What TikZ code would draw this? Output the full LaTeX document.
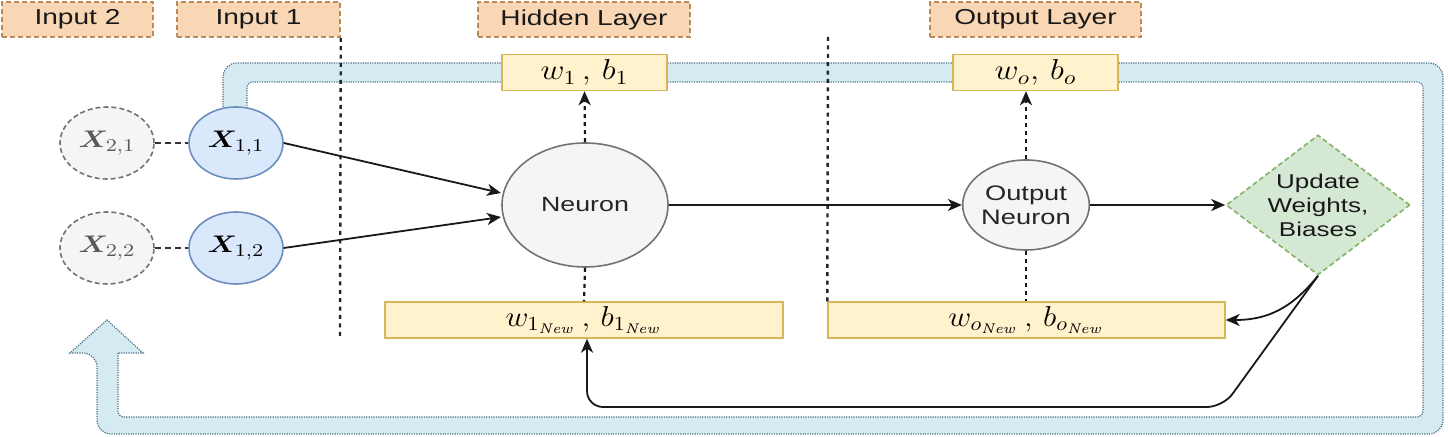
\documentclass[tikz,border=0pt]{standalone}
\usepackage[no-math]{fontspec}
\usepackage{bm}
\usetikzlibrary{shapes.geometric,arrows.meta}
\newfontfamily\lsans[FakeStretch=1.3]{Liberation Sans}
\newcommand{\hstr}[2]{\scalebox{#1}[1]{#2}}
\definecolor{peach}{RGB}{250,215,180}
\definecolor{peachd}{RGB}{185,140,95}
\definecolor{yel}{RGB}{255,242,204}
\definecolor{yeld}{RGB}{214,182,86}
\definecolor{bluef}{RGB}{218,232,252}
\definecolor{blued}{RGB}{108,142,191}
\definecolor{greyf}{RGB}{245,245,245}
\definecolor{greyd}{RGB}{115,115,115}
\definecolor{greenf}{RGB}{213,232,212}
\definecolor{greend}{RGB}{130,179,102}
\definecolor{bandf}{RGB}{212,235,242}
\definecolor{bandd}{RGB}{80,110,135}
\tikzset{
  hdr/.style={draw=peachd, fill=peach, dash pattern=on 2.5pt off 1.5pt, line width=0.8pt,
    minimum height=17.5pt, inner sep=0pt, text=black!90, font=\lsans\fontsize{10.8}{12}\selectfont},
  wbox/.style={draw=yeld, fill=yel, line width=0.7pt, minimum height=18pt, inner sep=0pt,
    font=\fontsize{14.5}{16}\selectfont},
  xin/.style={ellipse, draw=blued, fill=bluef, line width=0.8pt, minimum width=47pt,
    minimum height=36pt, inner sep=0pt, font=\fontsize{12.5}{14}\selectfont},
  xprev/.style={ellipse, draw=greyd, fill=greyf, dash pattern=on 2.5pt off 1.5pt, line width=0.8pt,
    minimum width=47pt, minimum height=36pt, inner sep=0pt, text=black!65, font=\fontsize{12.5}{14}\selectfont},
  neu/.style={ellipse, draw=greyd, fill=greyf, line width=0.8pt, inner sep=0pt, align=center,
    text=black!85},
  updbox/.style={diamond, draw=greend, fill=greenf, dash pattern=on 2.5pt off 1.5pt, line width=0.8pt,
    aspect=1.31, minimum width=92pt, minimum height=70pt, inner sep=0pt, align=center,
    text=black!90, font=\lsans\fontsize{10}{12}\selectfont},
  sep/.style={draw=black!85, line width=1.2pt, dash pattern=on 2pt off 2.2pt},
  flow/.style={draw=black!90, line width=0.9pt, -{Stealth[length=7pt,width=6pt,inset=2pt]}},
  upd/.style={draw=black!90, line width=1.1pt, dash pattern=on 2pt off 2pt},
  updarrow/.style={upd, -{Stealth[length=7pt,width=6pt,inset=2pt]}},
  dashlink/.style={draw=black!80, line width=0.9pt, dash pattern=on 3pt off 2pt},
}
\begin{document}
\begin{tikzpicture}[x=0.5pt,y=-0.5pt]
\useasboundingbox (0,0) rectangle (1448,437);
% feedback band
\filldraw[fill=bandf, draw=bandd, line width=0.6pt, dash pattern=on 0.6pt off 0.6pt, rounded corners=7pt]
  (118,353) [rounded corners=3pt] -- (118,417) -- (1423,417) -- (1423,82) -- (247,82)
  -- (247,112) -- (223,112) [rounded corners=7pt] -- (223,63) -- (1443,63) -- (1443,434) -- (97,434)
  -- (97,353) [sharp corners] -- (70,353) -- (107,320) -- (143,353) -- cycle;

% headers
\node[hdr, minimum width=75.5pt] (in2) at (77.5,19.5) {Input 2};
\node[hdr, minimum width=81.5pt] (in1) at (258.5,19.5) {Input 1};
\node[hdr, minimum width=106pt] (hid) at (584,19.5) {Hidden Layer};
\node[hdr, minimum width=105.5pt] (outl) at (1035.5,19.5) {Output Layer};

% separators
\coordinate (s1b) at (340,340);
\coordinate (s2t) at (828,37);

% parameter boxes
\node[wbox, minimum width=82.5pt] (wb1) at (584.5,72.5) {\hstr{1.15}{$w_1\,,\,b_1$}};
\node[wbox, minimum width=82.5pt] (wbo) at (1035.5,72.5) {\hstr{1.15}{$w_o,\,b_o$}};
\node[wbox, minimum width=199pt] (wb1n) at (584,320) {\hstr{1.1}{$w_{1_{\mathit{New}}}\,,\,b_{1_{\mathit{New}}}$}};
\node[wbox, minimum width=198.5pt] (wbon) at (1026.5,320) {\hstr{1.1}{$w_{o_{\mathit{New}}}\,,\,b_{o_{\mathit{New}}}$}};

\draw[sep] (in1.south east) -- (s1b);
\draw[sep] (s2t) -- (wbon.north west);

% inputs
\node[xprev] (x21) at (107,143) {\hstr{1.2}{$\bm{X}_{2,1}$}};
\node[xin] (x11) at (236,143) {\hstr{1.2}{$\bm{X}_{1,1}$}};
\node[xprev] (x22) at (107,248) {\hstr{1.2}{$\bm{X}_{2,2}$}};
\node[xin] (x12) at (236,248) {\hstr{1.2}{$\bm{X}_{1,2}$}};

% neurons
\node[neu, minimum width=83pt, minimum height=62pt, font=\lsans\fontsize{10.3}{12}\selectfont] (neu) at (585,205) {Neuron};
\node[neu, minimum width=59pt, minimum height=45pt, font=\lsans\fontsize{10.5}{12}\selectfont] (on) at (1026,205) {Output\\Neuron};
\node[updbox] (upn) at (1318,205) {Update\\Weights,\\Biases};

% links
\draw[dashlink] (x21) -- (x11);
\draw[dashlink] (x22) -- (x12);
\coordinate (n1) at (501,193);
\coordinate (n2) at (501,217);
\draw[flow] (x11.east) -- (n1);
\draw[flow] (x12.east) -- (n2);
\draw[flow] (neu.east) -- (on.west);
\draw[flow] (on.east) -- (upn.west);
\draw[updarrow] (neu.north) -- (wb1.south);
\draw[upd] (neu.south) -- (wb1n.north);
\draw[updarrow] (on.north) -- (on.north |- wbo.south);
\draw[upd] (on.south) -- (on.south |- wbon.north);

% feedback arrows
\coordinate (c1) at (1223,407);
\coordinate (c2) at (587,407);
\draw[flow] (upn.south) .. controls (1292,308) and (1268,320) .. (wbon.east);
\draw[flow, rounded corners=8pt] (upn.south) -- (c1) -- (c2) -- (c2 |- wb1n.south);
\end{tikzpicture}
\end{document}
